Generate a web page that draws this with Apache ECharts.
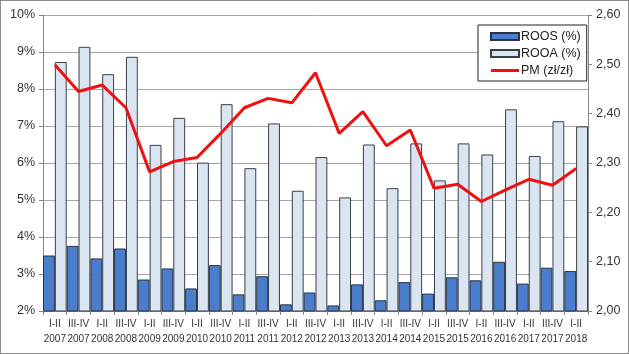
<!DOCTYPE html>
<html>
<head>
<meta charset="utf-8">
<script src="https://cdn.jsdelivr.net/npm/echarts@6/dist/echarts.min.js"></script>
<style>
html, body { margin: 0; padding: 0; background: #fff; }
#main { width: 627px; height: 352px; border: 1px solid #8c8c8c; }
</style>
</head>
<body>
<div id="main"></div>
<script>
const categories = [
  'I-II\n2007', 'III-IV\n2007', 'I-II\n2008', 'III-IV\n2008', 'I-II\n2009', 'III-IV\n2009',
  'I-II\n2010', 'III-IV\n2010', 'I-II\n2011', 'III-IV\n2011', 'I-II\n2012', 'III-IV\n2012',
  'I-II\n2013', 'III-IV\n2013', 'I-II\n2014', 'III-IV\n2014', 'I-II\n2015', 'III-IV\n2015',
  'I-II\n2016', 'III-IV\n2016', 'I-II\n2017', 'III-IV\n2017', 'I-II\n2018'
]
// ROOS (%)
const roos = [3.50, 3.76, 3.42, 3.69, 2.85, 3.15, 2.61, 3.24, 2.45, 2.94, 2.18, 2.50,
  2.15, 2.72, 2.29, 2.78, 2.47, 2.91, 2.83, 3.33, 2.74, 3.17, 3.08]
// ROOA (%)
const rooa = [8.73, 9.14, 8.40, 8.87, 6.49, 7.22, 6.01, 7.59, 5.86, 7.07, 5.25, 6.16,
  5.07, 6.50, 5.32, 6.53, 5.53, 6.53, 6.23, 7.45, 6.19, 7.13, 6.99]
// PM (zl/zl)
const pm = [2.499, 2.445, 2.458, 2.412, 2.282, 2.303, 2.311, 2.360, 2.412, 2.431, 2.422, 2.483,
  2.360, 2.404, 2.335, 2.367, 2.249, 2.257, 2.222, 2.245, 2.267, 2.255, 2.289]

const font = 'Liberation Sans'
let myChart = echarts.init(document.getElementById('main'))
let option = {
  animation: false,
  textStyle: { fontFamily: font },
  grid: { left: 42, right: 40, top: 14, bottom: 42 },
  legend: {
    orient: 'vertical',
    left: 477,
    top: 24,
    width: 104,
    padding: [5, 6, 4, 12],
    itemGap: 4,
    itemWidth: 28,
    itemHeight: 7,
    backgroundColor: '#fff',
    borderColor: '#222',
    borderWidth: 1,
    textStyle: { fontSize: 12.5, color: '#222', padding: [0, 0, 0, -3] },
    data: [
      { name: 'ROOS (%)', icon: 'rect' },
      { name: 'ROOA (%)', icon: 'rect' },
      { name: 'PM (zł/zł)', icon: 'path://M0 0 H28 V3 H0 Z' }
    ]
  },
  xAxis: {
    type: 'category',
    data: categories,
    axisLine: { lineStyle: { color: '#868686' } },
    axisTick: { show: true, interval: 0, length: 4, lineStyle: { color: '#868686' } },
    axisLabel: { interval: 0, fontSize: 10, color: '#333', lineHeight: 15, margin: 6 }
  },
  yAxis: [
    {
      type: 'value',
      min: 2, max: 10, interval: 1,
      axisLine: { show: true, lineStyle: { color: '#868686' } },
      axisTick: { show: true, length: 4, lineStyle: { color: '#868686' } },
      axisLabel: { formatter: '{value}%', fontSize: 12.5, color: '#333', margin: 8 },
      splitLine: { lineStyle: { color: '#a6a6a6' } }
    },
    {
      type: 'value',
      min: 2.0, max: 2.6, interval: 0.1,
      axisLine: { show: true, lineStyle: { color: '#868686' } },
      axisTick: { show: true, length: 4, lineStyle: { color: '#868686' } },
      axisLabel: {
        fontSize: 12.5, color: '#333', margin: 8,
        formatter: v => v.toFixed(2).replace('.', ',')
      },
      splitLine: { show: false }
    }
  ],
  series: [
    {
      name: 'ROOS (%)',
      type: 'bar',
      data: roos,
      barGap: '0%',
      barCategoryGap: '0%',
      itemStyle: { color: '#4a7dcb', borderColor: '#2b3440', borderWidth: 1 }
    },
    {
      name: 'ROOA (%)',
      type: 'bar',
      data: rooa,
      barGap: '0%',
      barCategoryGap: '0%',
      itemStyle: { color: '#dbe5f1', borderColor: '#3a3f47', borderWidth: 1 }
    },
    {
      name: 'PM (zł/zł)',
      type: 'line',
      yAxisIndex: 1,
      data: pm,
      symbol: 'none',
      lineStyle: { color: '#ee1111', width: 3 },
      itemStyle: { color: '#ee1111' }
    }
  ]
}
myChart.setOption(option)
</script>
</body>
</html>
